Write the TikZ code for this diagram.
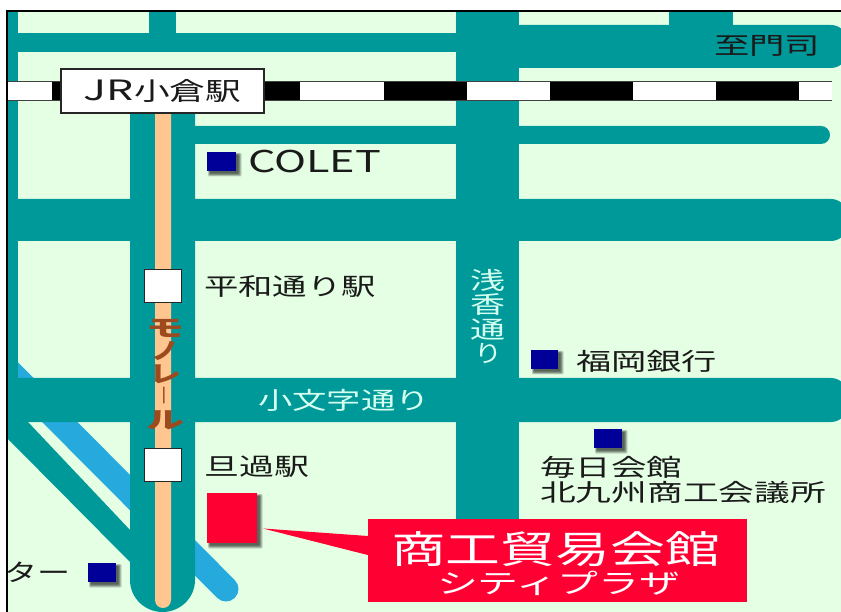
\documentclass[tikz,border=0pt]{standalone}
\usepackage{fontspec}
\usepackage{graphicx}
\setmainfont{Noto Sans CJK JP}
\definecolor{cland}{HTML}{E5FFE5}
\definecolor{croad}{HTML}{009999}
\definecolor{criver}{HTML}{26AADD}
\definecolor{cmono}{HTML}{FFC78F}
\definecolor{chot}{HTML}{FF0033}
\definecolor{cmark}{HTML}{000099}
\definecolor{cpale}{HTML}{D5FFF0}
\definecolor{cink}{HTML}{1A1A1A}
\definecolor{cbrown}{HTML}{9C4A1E}
\newcommand{\wt}[3]{{\fontsize{#2}{#2}\selectfont\resizebox{#1pt}{\height}{#3}}}
\tikzset{
  lbl/.style={inner sep=0pt,outer sep=0pt,text=cink},
  roadfill/.style={fill=croad,draw=none},
  stn/.style={draw=black!85,line width=1.2pt,fill=white,inner sep=0pt,minimum width=37pt,minimum height=33pt},
}
\newcommand{\softshadow}[4]{%
  \foreach \d in {0,1,2,3,4}{\fill[black,opacity=.17,rounded corners=1pt] (#1+1+\d*.5,#2+1+\d*.5) rectangle (#3+5.5-\d*.8,#4+5.5-\d*.8);}}
\begin{document}
\begin{tikzpicture}[x=1pt,y=-1pt]
\useasboundingbox (0,0) rectangle (841,612);
\begin{scope}
\clip (0,0) rectangle (841,612);
\fill[white] (0,0) rectangle (841,612);
\fill[cland] (7,11) rectangle (841,612);
% river
\begin{scope}
\clip (7,11) rectangle (841,612);
\draw[criver,line width=25pt,line cap=round] (5,367) -- (226,589);
\end{scope}
% roads
\fill[roadfill] (8,12) rectangle (18,400);
\fill[roadfill] (149,12) rectangle (176,40);
\fill[roadfill] (8,33) rectangle (460,52);
\fill[roadfill] (456,12) rectangle (519,525);
\fill[roadfill] (669,12) rectangle (733,30);
\fill[roadfill,rounded corners=16pt] (500,25) rectangle (847,68);
\fill[roadfill,rounded corners=9pt] (170,126) rectangle (830,144);
\fill[roadfill,rounded corners=16pt] (-30,199) rectangle (847,241);
\fill[roadfill,rounded corners=16pt] (-30,378) rectangle (847,422);
\fill[roadfill] (8,422) -- (28,422) -- (131,531) -- (131,563) -- (8,439) -- cycle;
\fill[roadfill] (130,100) -- (130,580) arc (180:0:32.5 and 32) -- (195,100) -- cycle;
\fill[cmono] (155,100) -- (155,600) arc (180:0:8) -- (171,100) -- cycle;
% railway
\fill[white] (8,81) rectangle (832,100);
\foreach \a/\b in {52/64,264/300,384/467,550/633,716/799}
  \fill[black] (\a,81) rectangle (\b,100);
\draw[black!75,line width=.9pt] (8,81) -- (832,81) (8,100) -- (832,100);
\end{scope}
\node[draw=black!85,line width=1.2pt,fill=white,minimum width=203pt,minimum height=44pt,inner sep=0pt,text=cink] (kokura) at (162.5,91) {\wt{50}{28}{JR}\wt{107}{25}{小倉駅}};
% stations
\node[stn] (heiwa) at (163,286) {};
\node[stn] (tanga) at (163,465) {};
% text on roads
\node[lbl] (shimon) at (767,46) {\wt{106}{24}{至門司}};
\node[lbl,text=cpale] (kokomoji) at (344,400) {\wt{172}{24}{小文字通り}};
\node[lbl,text=cpale,align=center,font=\fontsize{24}{24.5}\selectfont] (asano) at (488,316.5) {%
  \resizebox{35pt}{\height}{浅}\\\resizebox{35pt}{\height}{香}\\\resizebox{35pt}{\height}{通}\\\resizebox{28pt}{\height}{り}};
\node[lbl,text=cbrown,align=center,font=\fontsize{23}{23}\selectfont\bfseries] (monorail) at (165,375) {%
  \resizebox{38pt}{\height}{モ}\\\resizebox{28pt}{\height}{ノ}\\\resizebox{32pt}{\height}{レ}\\\rotatebox{90}{\resizebox{20pt}{4pt}{ー}}\\\resizebox{38pt}{\height}{ル}};
% markers
\softshadow{207}{152}{236}{171}
\softshadow{531}{350}{558}{369}
\softshadow{594}{429}{622}{448}
\softshadow{88}{563}{116}{582}
\fill[cmark] (207,152) rectangle (236,171);
\fill[cmark] (531,350) rectangle (558,369);
\fill[cmark] (594,429) rectangle (622,448);
\fill[cmark] (88,563) rectangle (116,582);
% labels
\node[lbl,anchor=west] (colet) at (248,162) {\wt{133}{30}{COLET}};
\node[lbl,anchor=west] (heiwat) at (204,287) {\wt{172}{24}{平和通り駅}};
\node[lbl,anchor=west] (tangat) at (204,467) {\wt{105}{24}{旦過駅}};
\node[lbl,anchor=west] (fuku) at (576,361) {\wt{141}{24}{福岡銀行}};
\node[lbl,anchor=west] (maini) at (540,467) {\wt{142}{24}{毎日会館}};
\node[lbl,anchor=west] (kita) at (540,492) {\wt{286}{24}{北九州商工会議所}};
\node[lbl,anchor=east] (ta) at (71,572) {\wt{66}{24}{ター}};
% target building
\softshadow{207}{493}{257}{543}
\node[fill=chot,minimum width=50pt,minimum height=50pt,inner sep=0pt] (plaza) at (232,518) {};
\coordinate (tipp) at (263,528.5);
\node[fill=chot,minimum width=379pt,minimum height=83pt,inner sep=0pt] (callout) at (557.5,560.5) {};
\fill[chot] (tipp) -- (callout.west |- 0,536) -- (callout.west |- 0,555) -- cycle;
\node[lbl,text=white] (name) at (555.5,549) {\wt{329}{38}{商工貿易会館}};
\node[lbl,text=white] (kana) at (558.5,583) {\wt{243}{27}{シティプラザ}};
% frame
\fill[white] (0,0) rectangle (6,612);
\fill[white] (0,0) rectangle (841,10.5);
\draw[black,line width=2pt] (6.5,612) -- (6.5,11) ;
\draw[black,line width=1.3pt] (5.5,11) -- (841,11);
\end{tikzpicture}
\end{document}
